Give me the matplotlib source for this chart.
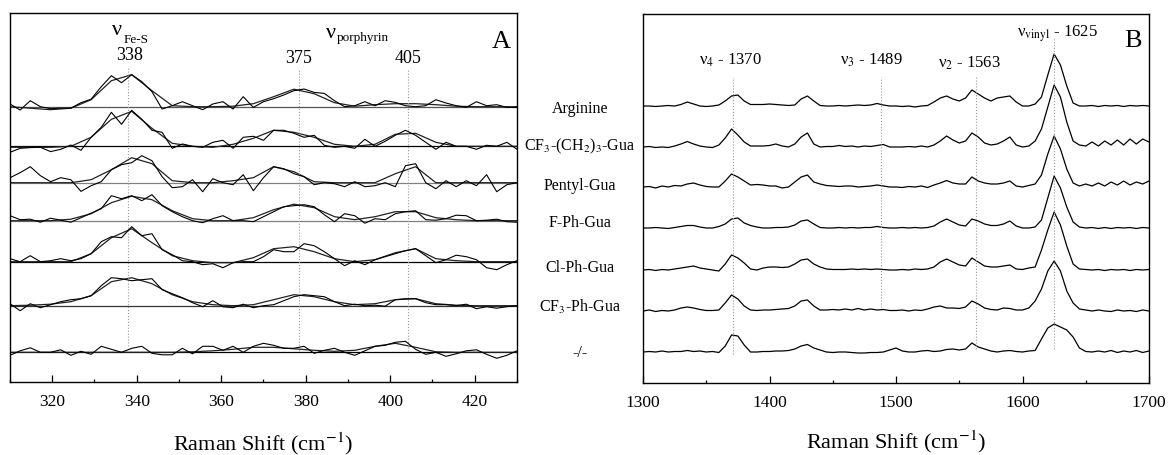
import numpy as np
import matplotlib
matplotlib.use("Agg")
import matplotlib.pyplot as plt
from matplotlib.ticker import MultipleLocator

plt.rcParams["font.family"] = ["Liberation Serif", "DejaVu Serif"]
plt.rcParams["mathtext.fontset"] = "stix"

W, H = 1173, 456

SAMPLES = ["Arginine", r"CF$_3$-(CH$_2$)$_3$-Gua", "Pentyl-Gua", "F-Ph-Gua",
           "Cl-Ph-Gua", r"CF$_3$-Ph-Gua", "-/-"]

# ---- panel A: low-frequency region (raw spectra + fits) ----
A_X = np.linspace(310, 430, 51)
A_FIT_X = np.linspace(310, 430, 26)
A_OFFSETS = [275.3, 235.7, 199.3, 161.3, 120.3, 76.3, 29.7]

A_RAW = [
    [2.7, -3.3, 6, 0, -2, -1.5, -1.5, 4, 7.5, 20, 31, 24, 32, 25, 15, -2.3, 1, 5, 1, -3, 2.7, 5, -2.3, 10, -0.7, 5,
     8, 11.7, 16, 17.7, 14.3, 13.3, 6, 0, 1, 5, 1, 6, 4.3, 1, 0, 1, 7, 3.7, 1, -0.7, 5, 1, 2, -0.7, -0.7],
    [-6, -2, -1.3, -1, -5.3, -3, 1.3, -4, 9, 19, 34, 22, 36, 27, 16, 14, -2, 2.3, 0, -1, 4, 6, -2, 9, 10, 6,
     16, 16, 13, 9, 11, 1, -1, 0, -2, 7, 0, 5, 11, 16, 11, 4, -3, 4, 0, 0, -3, 1, 0, 4, -3],
    [5, 10, 16, 7, 1, 5, 3, -8.7, -3, 1, 13, 18, 20, 27, 22, 6, -5, -4, 3, -9, 4, 0, -2, 8, -8, 5,
     16, 14, 9, 6, -2, 0, -1, -4, 1, -4, -3, 0, -4, 17, 19, 0, -6, 2, -4, 2, -3, 8, -9, -2, 0],
    [5, 1, 1.5, -1.5, 2.5, 0.5, -1.5, 3, 7.5, 12, 25, 22, 25, 20, 26, 15, 9, 4, 0, -2, 2, 5, 0, 0, -1, 4,
     9, 14, 15, 16, 14, 6, -1, 7, 5, -2.5, 2, 1, 7, 9, 10, 1, 0.5, 2, 5.5, 5, 0, 0.5, 1.5, -1, -1.5],
    [3, 0, 6, 0, 1, 3, 1, 3, 8, 20, 25, 24, 35, 26, 28, 12, 7, 1, 0, -3, -2, -6, -1, 0, 0, 5,
     12, 10, 10, 18, 16, 10, 3, -4, 1, -3, 2, 5, 8, 11, 13, 6, -1, 2, 6.5, 5, 2, -6, -8, -3, 1],
    [2, -5, 2, -2, 1, 4, 6, 7, 10, 20, 28, 27, 25, 26, 27, 16, 12, 8, 3, -1, 5, -1, -2, 1.5, -2, 0,
     1, 5, 9, 11, 10, 9, 4, 0, 1.5, 0, 0.5, -0.5, 6, 7, 7, 3, 1, 1, 0, 1.5, -3, -1, -2.5, -1, 0],
    [-3, 1.5, 4.5, 0, 0, 2.5, -3, 1, -2, 6, 3, 0, 4, 6, -1, -2.5, -2.5, 4, -1.5, 6, 6, 2, 6, 0, 6, 9,
     7, 4, 4, 6, -1, 2, 4, 0, -3, 1.5, 6, 7, 10, 11, 3, -2, 0, -4, -1.5, 1.5, 2.5, -2, -6, -3, 1.5],
]

A_FIT = [
    [0, -1.5, -3, -1.5, 7, 26, 32, 16, 1, 0, 0, 0.5, 3, 10, 17.5, 13, 4, 0.5, 2, 3, 3, 2, 0.5, 0, 0, 0],
    [-1, -1, -1, 0, 9, 27, 35, 18, 3, 0, -1, 2, 8, 16, 14, 9, 2, 0, 2, 12, 13, 4, 0, 0, 0, 0],
    [0, 0, 0, 0, 3, 13, 25, 19, 2, 0, 0, 2, 5, 16, 11, 1, 0, 0, 0, 9, 16, 0, 0, 0, 0, 0],
    [0, 0, 0, 1.5, 7, 18, 24.5, 21, 10, 2, 0, 0, 3, 11, 16.5, 13, 4, 1, 4, 9, 9, 3, 1, 0, 0, 0],
    [0, 0, 0, 0, 8, 24, 33, 19, 6, 1, -1, -1, 4, 13, 15, 10, 3, 0, 2, 9, 13, 3, 1, 0, 0, 0],
    [0, 0.5, 1.5, 4, 10, 24, 28, 22, 11, 4, 1, 0, 1, 6, 11, 9, 4, 1, 2, 6, 7, 2, 0.5, 0, 0, 0],
    [0, 0, 0, 0, 0, 0, 0, 0, 0, 0.5, 1.5, 3, 5, 5, 3.5, 2, 1, 2, 6, 9, 5, 0.5, 0, 0, 0, 0],
]
A_BASE_COLORS = ["#555555", "black", "#808080", "#808080", "black", "#333333", "black"]
A_MARKS = [338, 378.3, 404.3]

# ---- panel B: high-frequency region ----
B_X = np.linspace(1300, 1700, 81)
B_OFFSETS = [277, 236, 196, 155, 113, 72, 31]

B_SPEC = [
    [0, 0, -0.5, 0, 0.5, 0, 1.5, 4, 2, 0, -0.5, 0, 1, 5, 10, 11, 5, 1.5, 1.5, 1.5, 2, 1.5, 1, 0.5, 1, 7, 10, 5,
     0.5, 0, 0, 0.5, 0, 0.5, 1, 0.5, 1, 2.5, 1, 0, 0,
     -0.5, 0, -1, 0, 0.5, 4, 8, 10, 7, 5, 8, 16, 12, 8, 5, 8, 9, 10, 4, 0, 0, 2, 9, 31, 52, 41, 20, 3, 0, 0,
     0.5, -0.5, 0.5, 0, 0.5, -0.5, 0.5, 0, 0.5, 0],
    [0, 0.5, -0.5, 0, -0.5, 1, 3, 5.5, 3, 1, 0, -0.5, 2, 9, 18, 12, 5, 1, 1, 1, 1.5, 3, 1, 0, 3, 10,
     14, 3, 0, 0.5, 0.5, 1.5, 0.5, 1, 0, 1, 0.5, 1.5, 2.5, 0, 0,
     0, 0.5, 0, 1, 0, 2, 6, 11, 7, 4, 6, 14, 10, 4, 2, 3, 6, 10, 2, 0, 1, 6, 18, 40, 62, 50, 25, 6, 2, 1,
     5, 1, 6, 2, 7, 2, 8, 3, 8, 5],
    [0, 0.5, -1, 1, 0, 1.5, 1, 3, 4, 2, 0.5, 0, 0, 6, 13, 10, 6, 2, 2.5, 2, 1, 1, -1, 0, 5, 10,
     12, 5, 3, 1.5, 1, 0.5, 1, 1, 0, 0.5, 1, 2, 1, 0, 0,
     -0.5, 0.5, 0, 1, -0.5, 2, 4, 6.5, 4, 3, 3, 10, 6, 4, 3, 3, 4, 6, 1, 0, 1.5, 3, 12, 33, 51, 38, 18, 4, 1, 3,
     1, 4, 1, 5, 2, 6, 2, 5, 3, 6],
    [0, 0, 0.5, 0, -0.5, 0.5, 1.5, 2.5, 2.5, 1, 0, 0, 1.5, 4, 9, 10, 5, 2.5, 1, 0, 0, 0.5, 0.5, 1, 3, 7,
     8, 4, 0.5, 0, 0, 0.5, 0, 0.5, 0, 0.5, 0.5, 1.5, 0.5, 0, 0,
     0.5, 0, 0.5, 0, 0.5, 2, 6, 9, 6, 3, 2, 9, 7, 4, 2.5, 2.5, 4, 7, 2, 0, 0, 1, 8, 30, 52, 40, 21, 6, 1, 0,
     0.5, -0.5, 0.5, -0.5, 0.5, 0, 0.5, -0.5, 0.5, 0],
    [0, 0.5, -0.5, 0.5, 0, 1, 2, 3, 4, 2, 1, 0, -1, 6, 15, 12, 7, 1, 0, 2, 3, 3, 2.5, 3, 6, 10,
     11, 6, 3, 1, 0.5, 0.5, 0.5, 1, 0.5, 1, 0.5, 1, 0.5, 0, 0,
     0.5, 0, 1, 0.5, 1, 3, 8, 11, 8, 5, 4, 12, 8, 4, 3, 3, 4, 5, 1, 0.5, 2, 3, 20, 40, 58, 45, 24, 6, 1, 0.5,
     0, 0.5, -0.5, 0.5, 0, 0.5, -0.5, 0.5, 0, 0.5],
    [0, 1, -0.5, 0.5, 0, 1, 3, 4, 3, 1.5, 0.5, 0.5, 1, 8, 16, 12, 5, 1, 0.5, 1, 1, 1.5, 2, 2.5, 5, 10,
     11, 5, 1, 1, 1.5, 1, 2, 1, 2.5, 1, 2, 1, 1.5, 0.5, 0.5,
     1, 0, 1, 0.5, 2, 4, 5, 3, 3, 2.5, 4, 10, 7, 3, 1.5, 1, 3, 2.5, 1, 1, 3, 10, 22, 40, 50, 40, 20, 8, 2, 1,
     0, 1, 0, -0.5, 1, 0, 0.5, -0.5, 1, 0],
    [0, 0.5, 0, 1, 0, 0.5, 0.5, 1.5, 0.5, 1, 0, 0.5, -0.5, 6, 17, 16, 7, 0, 0, 0.5, 0.5, 1, 1, 1.5, 3, 6,
     7.5, 4, 2, 0, -0.5, 0, 0, -0.5, -1, -1, -0.5, -0.5, 0, 2, 4,
     1, 0, 0, 1, 1.5, 0.5, 1, 2.5, 3, 2, 3, 9, 5, 3, 1, 0, 1, 1.5, 0.5, 0, 1, 1.5, 13, 24, 28, 25, 22, 15, 4, 0.5,
     0, 1, 0, 1.5, -0.5, 1, 0, 1.5, -0.5, 1],
]
B_MARKS = [1371, 1488, 1563, 1625]
B_MARK_SPANS = [(29, 306), (76, 306), (34, 306), (34, 346)]
B_LABELS = [r"ν$_4$ - 1370", r"ν$_3$ - 1489", r"ν$_2$ - 1563", r"ν$_{\rm vinyl}$ - 1625"]
B_LABEL_POS = [(1344.3, 319), (1455.7, 319), (1533.2, 316), (1595.7, 347)]


def style_axis(ax, major, minor):
    ax.set_yticks([])
    ax.xaxis.set_major_locator(MultipleLocator(major))
    ax.xaxis.set_minor_locator(MultipleLocator(minor))
    ax.tick_params(axis="x", which="major", direction="in", length=5, width=0.9,
                   labelsize=12.5, pad=8)
    ax.tick_params(axis="x", which="minor", direction="in", length=2.5, width=0.9)
    for sp in ax.spines.values():
        sp.set_linewidth(1.0)
    ax.set_ylim(0, 369)


fig = plt.figure(figsize=(W / 100, H / 100), dpi=100)

# panel A
ax_a = fig.add_axes([10 / W, 73 / H, 507 / W, 369 / H])
for raw, fit, off, bc in zip(A_RAW, A_FIT, A_OFFSETS, A_BASE_COLORS):
    ax_a.axhline(off, color=bc, lw=0.9, zorder=1)
    ax_a.plot(A_X, np.array(raw) + off, color="black", lw=0.8, zorder=3)
    ax_a.plot(A_FIT_X, np.array(fit) + off, color="#222222", lw=0.9, zorder=2)
ax_a.vlines(A_MARKS[0], 36, 315, colors="#999999", linestyles=":", lw=0.8)
ax_a.vlines(A_MARKS[1:], 31, 313, colors="#999999", linestyles=":", lw=0.8)
ax_a.set_xlim(310, 430)
style_axis(ax_a, 20, 10)
ax_a.set_xticks([320, 340, 360, 380, 400, 420])

ax_a.text(334.2, 348, "ν", fontsize=16, ha="left", va="baseline")
ax_a.text(336.8, 340, "Fe-S", fontsize=9.5, ha="left", va="baseline")
ax_a.text(338.2, 323, "338", fontsize=13, ha="center", va="baseline")
ax_a.text(384.7, 345, "ν", fontsize=16, ha="left", va="baseline")
ax_a.text(387.3, 342, "porphyrin", fontsize=9.5, ha="left", va="baseline")
ax_a.text(378.3, 320, "375", fontsize=13, ha="center", va="baseline")
ax_a.text(404.2, 320, "405", fontsize=13, ha="center", va="baseline")
ax_a.text(426.3, 335, "A", fontsize=19, ha="center", va="baseline")
ax_a.set_xlabel("Raman Shift (cm$^{-1}$)", fontsize=16)
ax_a.xaxis.label.set_va("baseline")
ax_a.xaxis.set_label_coords(0.5, (383 - 450) / 369)

# panel B
ax_b = fig.add_axes([643 / W, 72 / H, 506 / W, 369 / H])
for spec, off in zip(B_SPEC, B_OFFSETS):
    ax_b.plot(B_X, np.array(spec) + off, color="black", lw=0.9)
for xm, (y0, y1) in zip(B_MARKS, B_MARK_SPANS):
    ax_b.vlines(xm, y0, y1, colors="#999999", linestyles=":", lw=0.8)
for lab, (lx, ly) in zip(B_LABELS, B_LABEL_POS):
    ax_b.text(lx, ly, lab, fontsize=12, ha="left", va="baseline")
ax_b.text(1687.4, 337, "B", fontsize=19, ha="center", va="baseline")
ax_b.set_xlim(1300, 1700)
style_axis(ax_b, 100, 50)
ax_b.set_xlabel("Raman Shift (cm$^{-1}$)", fontsize=16)
ax_b.xaxis.label.set_va("baseline")
ax_b.xaxis.set_label_coords(0.5, (384 - 448) / 369)

# sample names between the panels
LABEL_BASELINES = [113, 150, 190, 227, 272, 312, 357]
for name, yb in zip(SAMPLES, LABEL_BASELINES):
    fig.text(580 / W, 1 - yb / H, name, fontsize=11.5, ha="center", va="baseline")

fig.savefig("out.png", dpi=100)
